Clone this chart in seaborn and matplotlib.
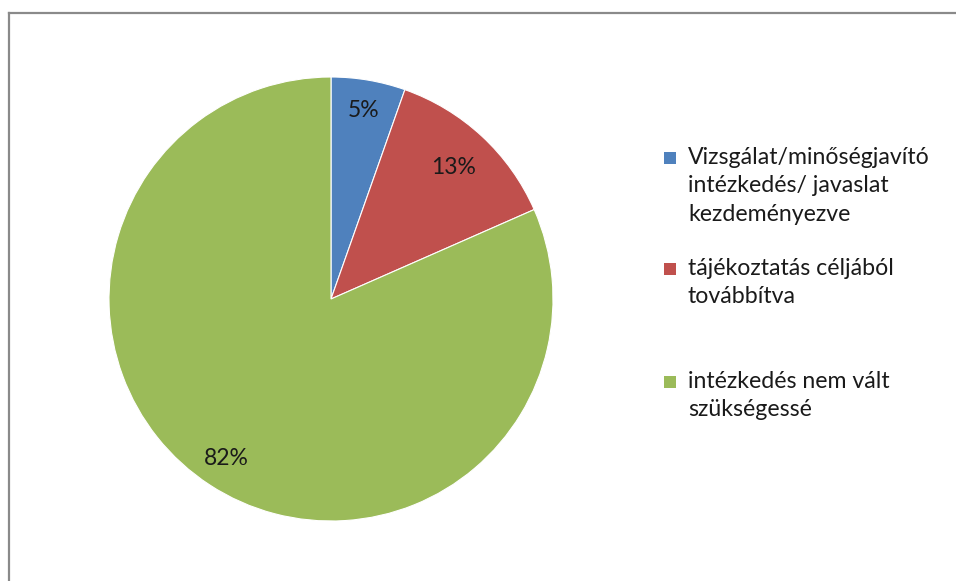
import matplotlib
matplotlib.use("Agg")
import matplotlib.pyplot as plt
import matplotlib.patches as mpatches
from matplotlib.lines import Line2D
import numpy as np
import seaborn as sns

categories = [
    "Vizsgálat/minőségjavító\nintézkedés/ javaslat\nkezdeményezve",
    "tájékoztatás céljából\ntovábbítva",
    "intézkedés nem vált\nszükségessé",
]
values = [5.4, 13.0, 81.6]
colors = ["#4F81BD", "#C0504D", "#9BBB59"]

sns.set_theme(style="white")
plt.rcParams["font.family"] = ["Lato", "DejaVu Sans"]

W, H = 956, 581
fig = plt.figure(figsize=(W / 100, H / 100), dpi=100)
fig.patch.set_facecolor("white")

# pie axes
cx, cy, r = 331, 299, 222
ax = fig.add_axes([(cx - r) / W, (H - cy - r) / H, 2 * r / W, 2 * r / H])
wedges, texts, autotexts = ax.pie(
    values,
    colors=colors,
    startangle=90,
    counterclock=False,
    autopct=lambda p: f"{p:.0f}%",
    pctdistance=0.84,
    wedgeprops=dict(edgecolor="white", linewidth=0.8),
    textprops=dict(fontsize=16.5, color="#1a1a1a"),
)
label_dist = [0.86, 0.81, 0.86]
for w, t, d in zip(wedges, autotexts, label_dist):
    mid = np.deg2rad((w.theta1 + w.theta2) / 2)
    t.set_position((d * np.cos(mid), d * np.sin(mid)))
ax.set_xlim(-1.0, 1.0)
ax.set_ylim(-1.0, 1.0)
ax.set_aspect("equal")
ax.axis("off")

# legend entries (manual layout to match spacing)
entry_y = [158, 269, 382]
for lab, col, y in zip(categories, colors, entry_y):
    fig.add_artist(mpatches.Rectangle((664 / W, (H - y - 6) / H), 12 / W, 12 / H,
                                      transform=fig.transFigure, facecolor=col,
                                      edgecolor="none"))
    fig.text(688 / W, (H - y + 11) / H, lab, fontsize=16.7, color="#1a1a1a",
             va="top", ha="left", linespacing=1.43)

# outer frame (top and left visible)
fig.add_artist(Line2D([9 / W, 1.0], [(H - 12.5) / H, (H - 12.5) / H],
                      transform=fig.transFigure, color="#8a8a8a", linewidth=1.6,
                      solid_capstyle="projecting"))
fig.add_artist(Line2D([9 / W, 9 / W], [0.0, (H - 12.5) / H],
                      transform=fig.transFigure, color="#8a8a8a", linewidth=1.6,
                      solid_capstyle="projecting"))

fig.savefig("out.png", dpi=100)
